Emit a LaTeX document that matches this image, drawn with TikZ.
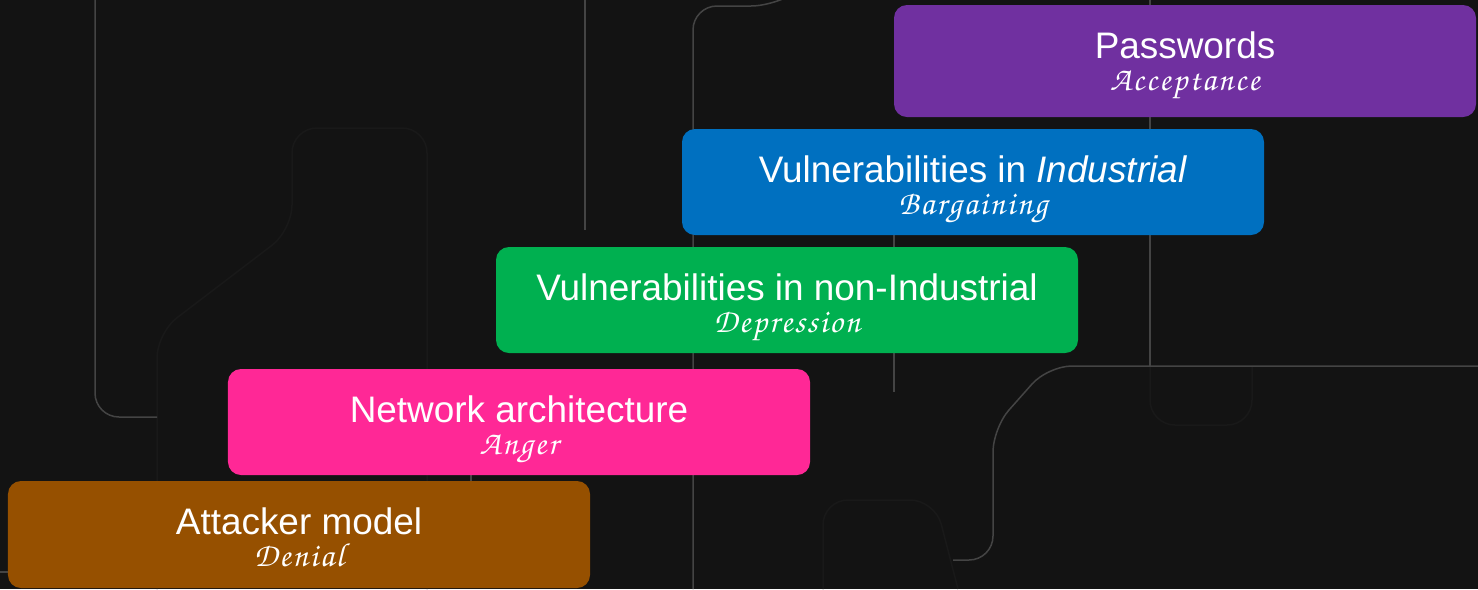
\documentclass[tikz,border=0pt]{standalone}
\usepackage[T1]{fontenc}
\usepackage{fontspec}
\setmainfont{Liberation Sans}
\usetikzlibrary{positioning}

\definecolor{bgdark}{HTML}{131313}
\definecolor{trace}{HTML}{444444}
\definecolor{tracefaint}{HTML}{191919}
\definecolor{acceptance}{HTML}{7030A0}
\definecolor{bargaining}{HTML}{0070C0}
\definecolor{depression}{HTML}{00B050}
\definecolor{anger}{HTML}{FF2896}
\definecolor{denial}{HTML}{965000}

% spaced-out calligraphic subtitle
\makeatletter
\newcommand{\stagename}[1]{{\usefont{T1}{pzc}{mb}{it}\fontsize{19}{22}\selectfont
  \@tfor\st@ch:=#1\do{\st@ch\kern1.1pt}\unkern}}
\makeatother

\tikzset{
  stagebox/.style={rectangle, rounded corners=2.6mm, minimum width=116.4mm,
    minimum height=21.2mm, inner sep=0pt, draw=none},
  topic/.style={anchor=base, text=white, inner sep=0pt, font=\fontsize{21}{25}\selectfont},
  mood/.style={anchor=base, text=white, inner sep=0pt},
  wire/.style={draw=trace, line width=0.3mm, rounded corners=4.8mm},
  ghost/.style={draw=tracefaint, line width=0.3mm, rounded corners=5mm},
}

\begin{document}
\begin{tikzpicture}[x=0.2mm, y=-0.2mm]
  \fill[bgdark] (0,0) rectangle (1478,589);
  \useasboundingbox (0,0) rectangle (1478,589);

  % circuit traces behind the stages
  \draw[ghost] (157,589) -- (157,333) -- (292,230) -- (292,128) -- (427,128) -- (427,589);
  \draw[ghost] (823,589) -- (823,500) -- (935,500) -- (958,589);
  \draw[ghost] (1150,366) -- (1150,425) -- (1252,425) -- (1252,366);
  \draw[wire] (95,0) -- (95,417) -- (157,417);
  \draw[wire] (585,0) -- (585,230);
  \draw[wire] (790,-4) -- (775,6) -- (693,6) -- (693,589);
  \draw[wire] (894,234) -- (894,392);
  \draw[wire] (1150,0) -- (1150,366);
  \draw[wire] (1478,366) -- (1048,366) -- (993,428) -- (993,560) -- (953,560);
  \draw[wire] (471,440) -- (471,500);
  \draw[wire] (0,572) -- (60,572);

  % the five stages
  \node[stagebox, fill=acceptance, minimum height=22.4mm] (pw) at (1185,61) {};
  \node[stagebox, fill=bargaining] (ind) at (973,182) {};
  \node[stagebox, fill=depression] (nonind) at (787,300) {};
  \node[stagebox, fill=anger] (net) at (519,422) {};
  \node[stagebox, fill=denial, minimum height=21.4mm] (att) at (299,534.5) {};

  \node[topic] (pwT) at ([yshift=-10.8mm]pw.north) {Passwords};
  \node[mood] (pwS) at ([yshift=-17.2mm]pw.north) {\stagename{Acceptance}};
  \node[topic] (indT) at ([yshift=-10.8mm]ind.north) {Vulnerabilities in \textit{Industrial}};
  \node[mood] (indS) at ([yshift=-17.2mm]ind.north) {\stagename{Bargaining}};
  \node[topic] (nonindT) at ([yshift=-10.8mm]nonind.north) {Vulnerabilities in non-Industrial};
  \node[mood] (nonindS) at ([yshift=-17.2mm]nonind.north) {\stagename{Depression}};
  \node[topic] (netT) at ([yshift=-10.8mm]net.north) {Network architecture};
  \node[mood] (netS) at ([yshift=-17.2mm]net.north) {\stagename{Anger}};
  \node[topic] (attT) at ([yshift=-10.8mm]att.north) {Attacker model};
  \node[mood] (attS) at ([yshift=-17.2mm]att.north) {\stagename{Denial}};
\end{tikzpicture}
\end{document}
